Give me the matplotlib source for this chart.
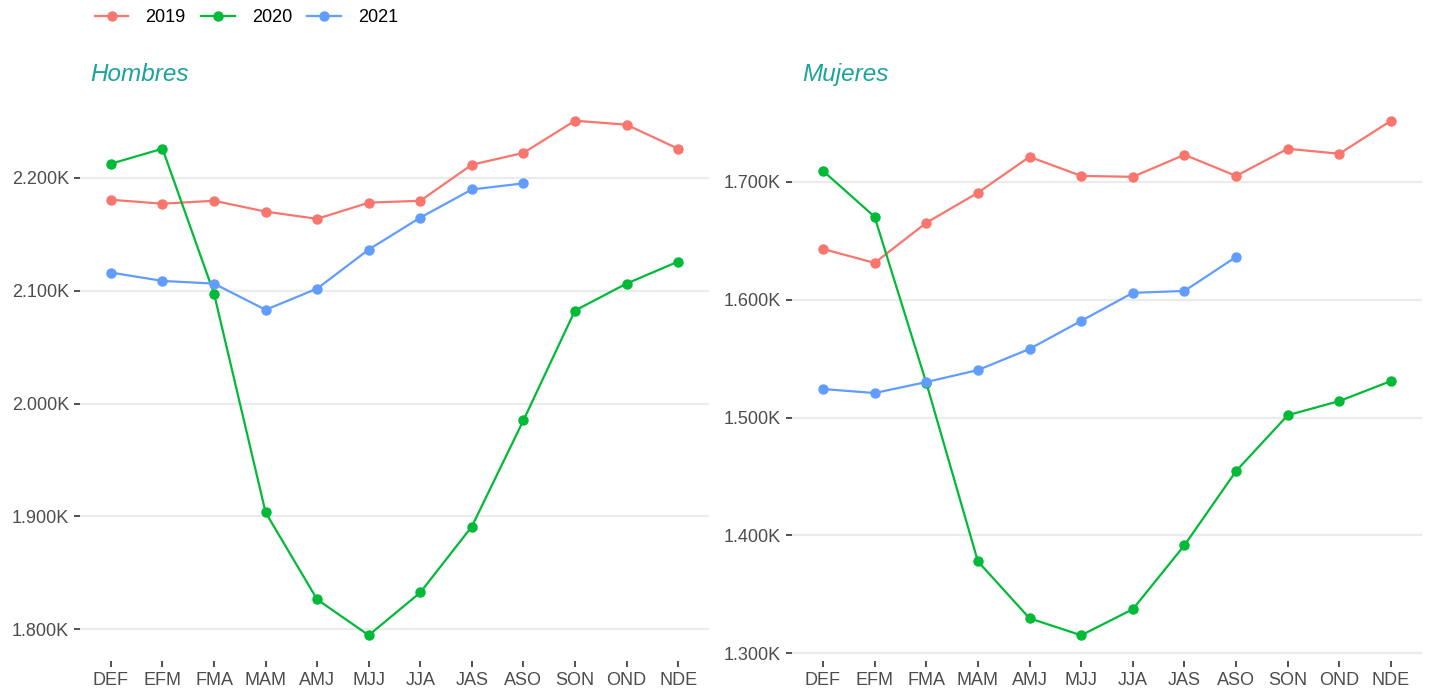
import matplotlib
matplotlib.use("Agg")
import matplotlib.pyplot as plt
from matplotlib.lines import Line2D
from matplotlib.ticker import FuncFormatter

plt.rcParams['font.family'] = ['Liberation Sans', 'DejaVu Sans']

periods = ["DEF", "EFM", "FMA", "MAM", "AMJ", "MJJ", "JJA", "JAS", "ASO", "SON", "OND", "NDE"]

hombres_2019 = [2180.5, 2177.0, 2179.6, 2170.0, 2163.6, 2177.9, 2179.6, 2211.5, 2222.0, 2250.5, 2247.0, 2225.7]
hombres_2020 = [2212.4, 2225.7, 2097.3, 1903.5, 1826.4, 1794.7, 1832.6, 1891.0, 1985.0, 2082.3, 2106.2, 2125.7]
hombres_2021 = [2116.0, 2108.6, 2106.2, 2083.0, 2101.8, 2136.4, 2164.7, 2189.6, 2195.0]

mujeres_2019 = [1643.0, 1631.2, 1665.2, 1690.7, 1721.2, 1705.0, 1704.2, 1722.9, 1705.0, 1728.0, 1723.8, 1751.8]
mujeres_2020 = [1709.3, 1670.3, 1529.5, 1378.0, 1329.7, 1315.3, 1337.4, 1391.7, 1454.6, 1502.0, 1514.0, 1531.0]
mujeres_2021 = [1524.2, 1520.8, 1530.1, 1540.3, 1558.2, 1582.0, 1605.8, 1607.4, 1636.3]

years = ["2019", "2020", "2021"]
colors = ["#F8766D", "#00BA38", "#619CFF"]

hombres_ticks = [1800, 1900, 2000, 2100, 2200]
mujeres_ticks = [1300, 1400, 1500, 1600, 1700]

fig = plt.figure(figsize=(14.29, 6.92), dpi=100)
ax1 = fig.add_axes([80/1429, 31/692, 629/1429, 566/692])
ax2 = fig.add_axes([792/1429, 31/692, 630/1429, 566/692])

fmt = FuncFormatter(lambda v, p: f"{v/1000:.3f}K")

def draw(ax, series, ticks, title):
    for vals, c in zip(series, colors):
        x = list(range(len(vals)))
        ax.plot(x, vals, color=c, lw=1.6, marker='o', ms=6.5, zorder=3)
    allv = [v for s in series for v in s]
    lo, hi = min(allv), max(allv)
    pad = (hi - lo) * 0.05
    ax.set_ylim(lo - pad, hi + pad)
    ax.set_xlim(-0.6, len(periods) - 1 + 0.6)
    ax.set_xticks(range(len(periods)))
    ax.set_xticklabels(periods)
    ax.set_yticks(ticks)
    ax.yaxis.set_major_formatter(fmt)
    ax.grid(axis='y', color='#EBEBEB', lw=1.6)
    ax.grid(axis='x', visible=False)
    ax.set_axisbelow(True)
    for s in ax.spines.values():
        s.set_visible(False)
    ax.tick_params(axis='both', length=4, width=1.2, color='#333333',
                   labelcolor='#4D4D4D', labelsize=13, pad=4)
    ax.text(0.017, 1.036, title, transform=ax.transAxes, fontsize=17.5,
            style='italic', color='#1BA39C', ha='left', va='center')

draw(ax1, [hombres_2019, hombres_2020, hombres_2021], hombres_ticks, "Hombres")
draw(ax2, [mujeres_2019, mujeres_2020, mujeres_2021], mujeres_ticks, "Mujeres")

handles = [Line2D([0], [0], color=c, lw=1.6, marker='o', ms=6.5) for c in colors]
fig.legend(handles, years, loc='center left', bbox_to_anchor=(95/1429, 1 - 18/692),
           ncol=3, frameon=False, fontsize=13, handlelength=1.85,
           handletextpad=0.95, columnspacing=0.85, borderaxespad=0, borderpad=0)

fig.savefig("out.png", dpi=100)
